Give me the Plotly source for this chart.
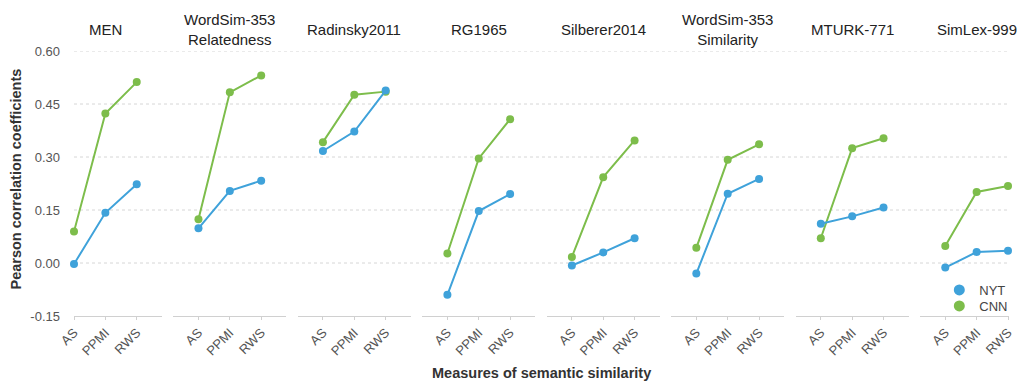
import plotly.graph_objects as go

datasets = ["MEN", "WordSim-353<br>Relatedness", "Radinsky2011", "RG1965",
            "Silberer2014", "WordSim-353<br>Similarity", "MTURK-771", "SimLex-999"]
measures = ["AS", "PPMI", "RWS"]
nyt = [
    [-0.003, 0.142, 0.223],
    [0.098, 0.204, 0.233],
    [0.317, 0.372, 0.488],
    [-0.090, 0.147, 0.195],
    [-0.007, 0.030, 0.070],
    [-0.030, 0.196, 0.238],
    [0.111, 0.132, 0.157],
    [-0.013, 0.031, 0.035],
]
cnn = [
    [0.089, 0.423, 0.512],
    [0.124, 0.483, 0.531],
    [0.342, 0.476, 0.485],
    [0.027, 0.296, 0.407],
    [0.017, 0.243, 0.347],
    [0.043, 0.292, 0.336],
    [0.070, 0.325, 0.353],
    [0.048, 0.201, 0.218],
]
ytick_vals = [-0.15, 0.0, 0.15, 0.30, 0.45, 0.60]
ytick_text = ["-0.15", "0.00", "0.15", "0.30", "0.45", "0.60"]

BLUE = "#3fa2da"
GREEN = "#7dbd4b"
W, H = 1023, 381
ML, MR, MT, MB = 74, 10, 51, 65
PW = W - ML - MR
PH = H - MT - MB
unit = 31.5
pad = 0.8
step = 125.0
left0 = ML - pad * unit

fig = go.Figure()
layout_axes = {}
annotations = []
for i, name in enumerate(datasets):
    x0 = left0 + step * i
    x1 = x0 + (2 + 2 * pad) * unit
    c0 = max(x0, ML)
    c1 = min(x1, W - MR)
    lo = -pad + (c0 - x0) / unit
    hi = 2 + pad - (x1 - c1) / unit
    key = "xaxis" if i == 0 else f"xaxis{i+1}"
    ref = "x" if i == 0 else f"x{i+1}"
    layout_axes[key] = dict(
        domain=[(c0 - ML) / PW, (c1 - ML) / PW], anchor="y",
        type="category", categoryorder="array", categoryarray=measures,
        range=[lo, hi], showgrid=False, showline=True, linecolor="#d0d0d0",
        linewidth=1, ticks="outside", ticklen=3, tickcolor="#d0d0d0",
        tickangle=-45, tickfont=dict(size=13, color="#555"), zeroline=False,
        automargin=False,
    )
    fig.add_trace(go.Scatter(x=measures, y=cnn[i], xaxis=ref, yaxis="y",
                             mode="lines+markers", name="CNN", showlegend=False,
                             line=dict(color=GREEN, width=2),
                             marker=dict(color=GREEN, size=8), cliponaxis=False))
    fig.add_trace(go.Scatter(x=measures, y=nyt[i], xaxis=ref, yaxis="y",
                             mode="lines+markers", name="NYT", showlegend=False,
                             line=dict(color=BLUE, width=2),
                             marker=dict(color=BLUE, size=8), cliponaxis=False))
    annotations.append(dict(
        text=name, xref="paper", yref="paper", xanchor="center",
        x=((x0 + x1) / 2 - ML) / PW, y=1, yshift=22, yanchor="middle",
        showarrow=False, font=dict(size=15, color="#222"),
    ))

legend_rows = [("NYT", BLUE, "legend", 290), ("CNN", GREEN, "legend2", 306)]
legend_cfg = {}
for nm, col, lg, ypx in legend_rows:
    fig.add_trace(go.Scatter(x=[None], y=[None], mode="markers", name=nm,
                             marker=dict(color=col, size=11), xaxis="x", yaxis="y",
                             legend=lg))
    legend_cfg[lg] = dict(x=(943 - ML) / PW, y=(H - MB - ypx) / PH,
                          xanchor="left", yanchor="middle", bgcolor="rgba(0,0,0,0)",
                          font=dict(size=13, color="#444"), borderwidth=0)

shapes = []
for v in ytick_vals[1:]:
    shapes.append(dict(type="line", xref="paper", yref="y", x0=0, x1=1, y0=v, y1=v,
                       line=dict(color="#d6d6d6", width=1, dash="dot"), layer="below"))

annotations.append(dict(text="<b>Pearson correlation coefficients</b>", xref="paper",
                        yref="paper", x=0, y=0.5, xshift=-59, yshift=4, textangle=-90,
                        xanchor="center", yanchor="middle",
                        showarrow=False, font=dict(size=14.5, color="#333")))
annotations.append(dict(text="<b>Measures of semantic similarity</b>", xref="paper",
                        yref="paper", x=0.5, y=0, yshift=-57, xanchor="center",
                        yanchor="middle",
                        showarrow=False, font=dict(size=14.5, color="#333")))

fig.update_layout(
    width=W, height=H, margin=dict(l=ML, r=MR, t=MT, b=MB),
    paper_bgcolor="white", plot_bgcolor="white",
    font=dict(family="Liberation Sans, Arial, sans-serif", color="#555"),
    yaxis=dict(range=[-0.15, 0.60], tickvals=ytick_vals, ticktext=ytick_text,
               showgrid=False, zeroline=False, showline=False,
               tickfont=dict(size=13, color="#555"), ticklabelstandoff=13,
               anchor="x", automargin=False),
    showlegend=True,
    shapes=shapes, annotations=annotations,
    **legend_cfg,
    **layout_axes,
)
fig.write_html("out.html", config={"displayModeBar": False},
               post_script="document.body.style.margin='0';document.body.style.padding='0';")
